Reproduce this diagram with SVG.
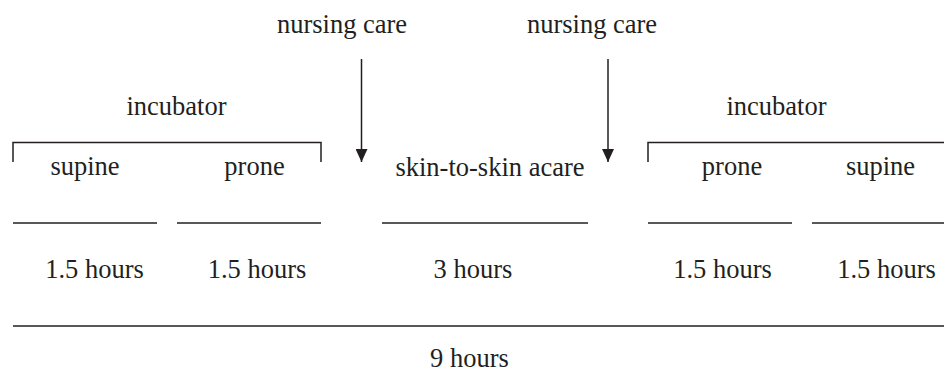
<svg xmlns="http://www.w3.org/2000/svg" width="944" height="373" viewBox="0 0 944 373">
<style>
text{font-family:"Liberation Serif",Tinos,"Times New Roman","DejaVu Serif",serif;font-size:26.5px;fill:#231f20;text-anchor:middle}
.ln{stroke:#231f20;stroke-width:1.5;fill:none}
</style>
<defs>
<marker id="ah" markerWidth="13" markerHeight="12" refX="13" refY="6" orient="auto" markerUnits="userSpaceOnUse" viewBox="0 0 13 12">
<path d="M0,0 L13,6 L0,12 Z" fill="#231f20"/>
</marker>
</defs>
<rect width="944" height="373" fill="#fff"/>
<g id="nursing1"><text x="342" y="33">nursing care</text></g>
<g id="nursing2"><text x="592" y="33">nursing care</text></g>
<g id="incubatorL">
<text x="176.5" y="115">incubator</text>
<path class="ln" d="M13,162 V142.5 H321 V162"/>
</g>
<g id="incubatorR">
<text x="776.5" y="115">incubator</text>
<path class="ln" d="M648,162 V142.5 H944"/>
</g>
<g id="supineL"><text x="85" y="175">supine</text><line class="ln" x1="13" y1="223" x2="157" y2="223"/><text x="94.5" y="278">1.5 hours</text></g>
<g id="proneL"><text x="254.5" y="175">prone</text><line class="ln" x1="177" y1="223" x2="321" y2="223"/><text x="257" y="278">1.5 hours</text></g>
<g id="skin"><text x="490" y="176">skin-to-skin acare</text><line class="ln" x1="382" y1="223" x2="588" y2="223"/><text x="473" y="278">3 hours</text></g>
<g id="proneR"><text x="732" y="175">prone</text><line class="ln" x1="648" y1="223" x2="792" y2="223"/><text x="722.5" y="278">1.5 hours</text></g>
<g id="supineR"><text x="880.5" y="175">supine</text><line class="ln" x1="812" y1="223" x2="944" y2="223"/><text x="886.5" y="278">1.5 hours</text></g>
<g id="total"><line class="ln" x1="13" y1="326" x2="944" y2="326"/><text x="469.5" y="367">9 hours</text></g>
<g id="connectors">
<line class="ln" x1="361.5" y1="59" x2="361.5" y2="162" marker-end="url(#ah)"/>
<line class="ln" x1="608" y1="59" x2="608" y2="162" marker-end="url(#ah)"/>
</g>
</svg>
